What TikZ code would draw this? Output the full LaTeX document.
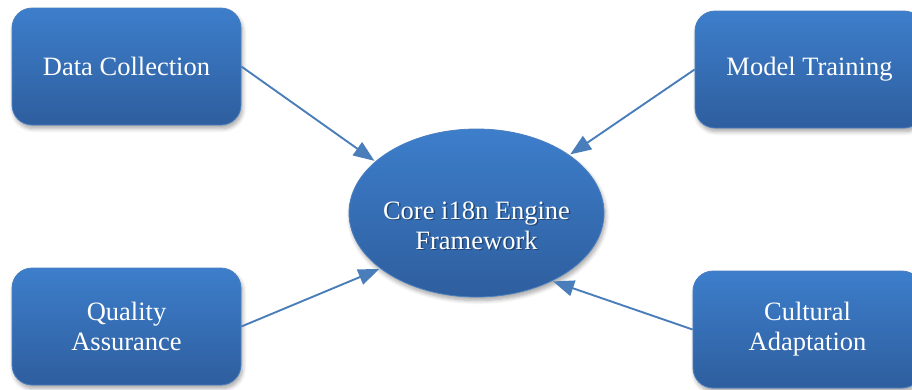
\documentclass[tikz,border=0pt]{standalone}
\usepackage{fontspec}
\setmainfont{Liberation Serif}
\usetikzlibrary{arrows.meta,shapes.geometric,shadows.blur}

\definecolor{boxtop}{HTML}{3D7ECB}
\definecolor{boxbot}{HTML}{2E5E9E}
\definecolor{boxedge}{HTML}{4A7FC0}
\definecolor{linkblue}{HTML}{4A7EBB}

\tikzset{
  softshadow/.style={blur shadow={shadow blur steps=6, shadow xshift=1.5pt,
      shadow yshift=-3.5pt, shadow blur radius=4pt, shadow opacity=35}},
  stagebox/.style={rectangle, rounded corners=20pt, minimum width=229pt,
      minimum height=117pt, top color=boxtop, bottom color=boxbot,
      draw=boxedge, line width=0.8pt, softshadow, text=white, align=center,
      font=\fontsize{26.5}{30}\selectfont},
  hub/.style={ellipse, minimum width=255pt, minimum height=168pt,
      top color=boxtop, bottom color=boxbot, draw=boxedge, line width=0.8pt,
      softshadow},
  hubtext/.style={text=white, align=center, font=\fontsize{26.5}{30}\selectfont},
  link/.style={draw=linkblue, line width=1.9pt,
      -{Triangle[length=21pt,width=16pt]}, shorten >=1pt},
}

\begin{document}
\begin{tikzpicture}[x=1pt,y=1pt]
  \useasboundingbox (0,0) rectangle (912,-389);
  \clip (0,0) rectangle (912,-389);

  % central engine
  \node[hub] (core) at (476.5,-213) {};
  \node[hubtext, text=black, opacity=0.35] at (478,-227)
       {Core i18n Engine\\Framework};
  \node[hubtext] (coretext) at (476.5,-225.5) {Core i18n Engine\\Framework};

  % surrounding stages
  \node[stagebox] (dc) at (126.5,-66.5) {Data Collection};
  \node[stagebox] (mt) at (809.5,-69.5) {Model Training};
  \node[stagebox] (qa) at (126.5,-326.5) {Quality\\Assurance};
  \node[stagebox] (ca) at (807.5,-329.5) {Cultural\\Adaptation};

  % connectors into the engine
  \draw[link] (dc.east) -- (core.153);
  \draw[link] (mt.west) -- (core.32);
  \draw[link] (qa.east) -- (core.210);
  \draw[link] (ca.west) -- (core.318);
\end{tikzpicture}
\end{document}
